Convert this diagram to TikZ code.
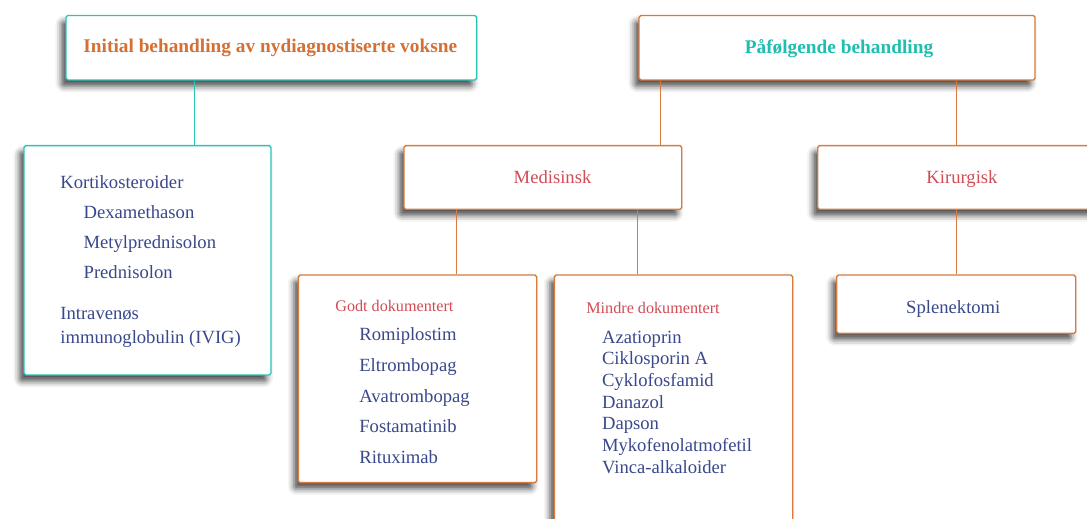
\documentclass[tikz,border=0pt]{standalone}
\usepackage{fontspec}
\setmainfont{Liberation Serif}
\usepackage{tikz}
\usetikzlibrary{fit,shadows.blur}
\definecolor{lineteal}{RGB}{40,196,182}
\definecolor{headteal}{RGB}{30,190,176}
\definecolor{lineorange}{RGB}{214,122,62}
\definecolor{headorange}{RGB}{212,112,52}
\definecolor{catred}{RGB}{210,76,86}
\definecolor{drugblue}{RGB}{58,72,140}

\tikzset{
  box/.style={fill=white, line width=0.8pt, rounded corners=1pt, inner sep=0pt,
    blur shadow={shadow xshift=-2.5pt, shadow yshift=-3.5pt,
      shadow blur radius=3.5pt, shadow opacity=70}},
  tealbox/.style={box, draw=lineteal},
  orangebox/.style={box, draw=lineorange},
  headtext/.style={anchor=base, inner sep=0pt, font=\fontsize{11}{13}\selectfont\bfseries},
  cattext/.style={anchor=base, inner sep=0pt, text=catred, font=\fontsize{10.6}{12}\selectfont},
  drugtext/.style={anchor=base west, inner sep=0pt, text=drugblue,
    font=\fontsize{10.6}{12}\selectfont},
  subhead/.style={anchor=base west, inner sep=0pt, text=catred,
    font=\fontsize{9.2}{11}\selectfont},
  tealline/.style={draw=lineteal, line width=0.5pt},
  orangeline/.style={draw=lineorange, line width=0.5pt},
}

\begin{document}
\begin{tikzpicture}[x=0.02cm, y=-0.02cm]
    \useasboundingbox (0,0) rectangle (1087,519);
    \clip (0,0) rectangle (1087,519);

    % Top level
    \node[tealbox, fit={(66,15.5) (476.7,80)}] (init) {};
    \node[headtext, text=headorange] (inittxt) at (270.3,52.3)
      {Initial behandling av nydiagnostiserte voksne};
    \node[orangebox, fit={(639,15.5) (1035,80)}] (next) {};
    \node[headtext, text=headteal] (nexttxt) at (839,53.3) {Påfølgende behandling};

    % Initial treatment list
    \node[tealbox, fit={(24,145.7) (271,375)}] (first) {};
    \node[drugtext] (kort) at (60,188.3) {Kortikosteroider};
    \foreach \drug [count=\i from 0] in {Dexamethason,Metylprednisolon,Prednisolon}
      \node[drugtext] (kort\i) at (83.3,218.3+30*\i) {\drug};
    \node[drugtext] (ivig1) at (60,320) {Intravenøs};
    \node[drugtext] (ivig2) at (60,344) {immunoglobulin (IVIG)};

    % Second level
    \node[orangebox, fit={(404,145.7) (681.7,209.3)}] (med) {};
    \node[cattext] (medtxt) at (552.5,183.5) {Medisinsk};
    \node[orangebox, fit={(817.7,145.7) (1107,209.3)}] (kir) {};
    \node[cattext] (kirtxt) at (962,183.5) {Kirurgisk};

    % Medical: well documented
    \node[orangebox, fit={(298.3,275) (536.7,482.7)}] (godt) {};
    \node[subhead] (godthead) at (335,311.7) {Godt dokumentert};
    \foreach \drug [count=\i from 0] in {Romiplostim,Eltrombopag,Avatrombopag,Fostamatinib,Rituximab}
      \node[drugtext] (godt\i) at (359,341+30.6*\i) {\drug};

    % Medical: less documented
    \node[orangebox, fit={(554.3,275) (792.7,560)}] (mindre) {};
    \node[subhead] (mindrehead) at (586,313.3) {Mindre dokumentert};
    \foreach \drug [count=\i from 0] in {Azatioprin,Ciklosporin A,Cyklofosfamid,Danazol,Dapson,Mykofenolatmofetil,Vinca-alkaloider}
      \node[drugtext] (mindre\i) at (601.7,343.3+21.67*\i) {\drug};

    % Surgical
    \node[orangebox, fit={(836.7,275) (1075.7,333.3)}] (splen) {};
    \node[drugtext, anchor=base] (splentxt) at (953.3,313.3) {Splenektomi};

    % Connectors
    \draw[tealline] (init.south -| 194.3,0) -- (first.north -| 194.3,0);
    \draw[orangeline] (next.south -| 660,0) -- (med.north -| 660,0);
    \draw[orangeline] (next.south -| 956,0) -- (kir.north -| 956,0);
    \draw[orangeline] (med.south -| 456.7,0) -- (godt.north -| 456.7,0);
    \draw[orangeline] (med.south -| 637.7,0) -- (mindre.north -| 637.7,0);
    \draw[orangeline] (kir.south -| 956,0) -- (splen.north -| 956,0);
\end{tikzpicture}
\end{document}
